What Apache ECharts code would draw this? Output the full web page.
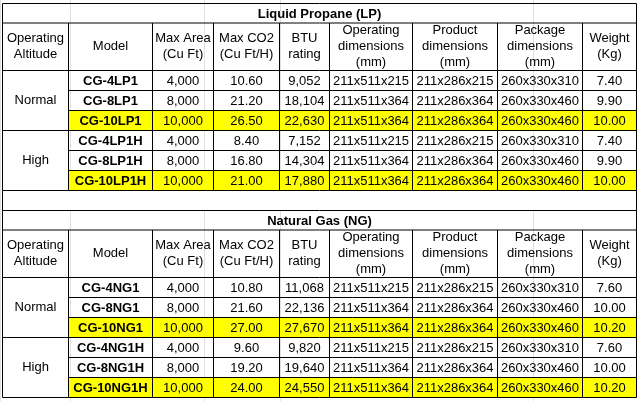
<!DOCTYPE html>
<html>
<head>
<meta charset="utf-8">
<script src="https://cdn.jsdelivr.net/npm/echarts@6/dist/echarts.min.js"></script>
<style>html,body{margin:0;padding:0;background:#fff}#main{width:641px;height:401px}</style>
</head>
<body>
<div id="main"></div>
<script>
var myChart = echarts.init(document.getElementById('main'));

var headers = ['Operating\nAltitude', 'Model', 'Max Area\n(Cu Ft)', 'Max CO2\n(Cu Ft/H)', 'BTU\nrating',
    'Operating\ndimensions\n(mm)', 'Product\ndimensions\n(mm)', 'Package\ndimensions\n(mm)', 'Weight\n(Kg)'];
var altitudes = ['Normal', 'High'];

var lpTitle = 'Liquid Propane (LP)';
var lpModels = ['CG-4LP1', 'CG-8LP1', 'CG-10LP1', 'CG-4LP1H', 'CG-8LP1H', 'CG-10LP1H'];
var lpArea = ['4,000', '8,000', '10,000', '4,000', '8,000', '10,000'];
var lpCo2 = ['10.60', '21.20', '26.50', '8.40', '16.80', '21.00'];
var lpBtu = ['9,052', '18,104', '22,630', '7,152', '14,304', '17,880'];
var lpOp = ['211x511x215', '211x511x364', '211x511x364', '211x511x215', '211x511x364', '211x511x364'];
var lpProd = ['211x286x215', '211x286x364', '211x286x364', '211x286x215', '211x286x364', '211x286x364'];
var lpPkg = ['260x330x310', '260x330x460', '260x330x460', '260x330x310', '260x330x460', '260x330x460'];
var lpWeight = ['7.40', '9.90', '10.00', '7.40', '9.90', '10.00'];

var ngTitle = 'Natural Gas (NG)';
var ngModels = ['CG-4NG1', 'CG-8NG1', 'CG-10NG1', 'CG-4NG1H', 'CG-8NG1H', 'CG-10NG1H'];
var ngArea = ['4,000', '8,000', '10,000', '4,000', '8,000', '10,000'];
var ngCo2 = ['10.80', '21.60', '27.00', '9.60', '19.20', '24.00'];
var ngBtu = ['11,068', '22,136', '27,670', '9,820', '19,640', '24,550'];
var ngOp = ['211x511x215', '211x511x364', '211x511x364', '211x511x215', '211x511x364', '211x511x364'];
var ngProd = ['211x286x215', '211x286x364', '211x286x364', '211x286x215', '211x286x364', '211x286x364'];
var ngPkg = ['260x330x310', '260x330x460', '260x330x460', '260x330x310', '260x330x460', '260x330x460'];
var ngWeight = ['7.60', '10.00', '10.20', '7.60', '10.00', '10.20'];

// layout
var colX = [2.5, 68.5, 152.5, 213.5, 279.5, 329.5, 412.5, 497.5, 582.5, 636.5];
var FONT = '"Liberation Sans", Arial, sans-serif';
var els = [];

function line(x1, y1, x2, y2) {
    els.push({ type: 'line', shape: { x1: x1, y1: y1, x2: x2, y2: y2 }, style: { stroke: '#000', lineWidth: 1 } });
}
function rect(x, y, w, h, fill) {
    els.push({ type: 'rect', shape: { x: x, y: y, width: w, height: h }, style: { fill: fill } });
}
function text(t, cx, cy, bold) {
    els.push({ type: 'text', x: cx, y: cy, style: {
        text: t, fill: '#000', font: (bold ? 'bold ' : '') + '13px ' + FONT,
        align: 'center', verticalAlign: 'middle', lineHeight: 16 } });
}

function section(top, title, cols) {
    var titleBot = top + 19.5, headBot = titleBot + 47.5, rowH = 20;
    var bottom = headBot + rowH * 6;
    // yellow rows
    [2, 5].forEach(function (r) {
        rect(colX[1], headBot + r * rowH, colX[9] - colX[1], rowH, '#ffff00');
    });
    text(title, (colX[0] + colX[9]) / 2, (top + titleBot) / 2 + 1, true);
    headers.forEach(function (h, i) {
        text(h, (colX[i] + colX[i + 1]) / 2, (titleBot + headBot) / 2, false);
    });
    altitudes.forEach(function (a, g) {
        text(a, (colX[0] + colX[1]) / 2, headBot + (g * 3 + 1.5) * rowH, false);
    });
    for (var r = 0; r < 6; r++) {
        var cy = headBot + r * rowH + rowH / 2 + 1;
        cols.forEach(function (c, i) {
            text(c[r], (colX[i + 1] + colX[i + 2]) / 2, cy, i === 0);
        });
    }
    // grid lines
    line(colX[0], top, colX[9], top);
    line(colX[0], titleBot, colX[9], titleBot);
    line(colX[0], headBot, colX[9], headBot);
    for (var k = 1; k <= 6; k++) {
        var y = headBot + k * rowH;
        line(k % 3 === 0 ? colX[0] : colX[1], y, colX[9], y);
    }
    line(colX[0], top, colX[0], bottom);
    line(colX[9], top, colX[9], bottom);
    for (var j = 1; j < 9; j++) line(colX[j], titleBot, colX[j], bottom);
    return bottom;
}

// faint sheet gridlines
[0.5, 70.5, 204.5, 280.5, 533.5].forEach(function (x) {
    els.push({ type: 'line', shape: { x1: x, y1: 0, x2: x, y2: 401 }, style: { stroke: '#e0e0e0', lineWidth: 1 } });
});

var b1 = section(3.5, lpTitle, [lpModels, lpArea, lpCo2, lpBtu, lpOp, lpProd, lpPkg, lpWeight]);
// blank row between sections
rect(colX[0], b1 + 0.5, colX[9] - colX[0], 19, '#fff');
line(colX[0], b1, colX[0], b1 + 20);
line(colX[9], b1, colX[9], b1 + 20);
section(b1 + 20, ngTitle, [ngModels, ngArea, ngCo2, ngBtu, ngOp, ngProd, ngPkg, ngWeight]);

myChart.setOption({ animation: false, graphic: { elements: els } });
</script>
</body>
</html>
